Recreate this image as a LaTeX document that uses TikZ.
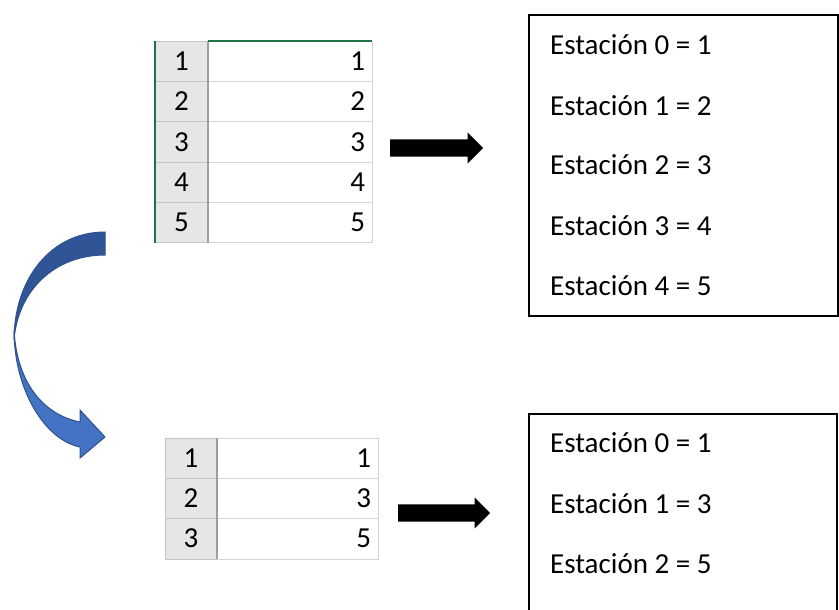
\documentclass[tikz,border=0pt]{standalone}
\usepackage{fontspec}
\setmainfont{Carlito}
\usetikzlibrary{positioning,shapes.arrows}

\definecolor{headgrey}{HTML}{E6E6E6}
\definecolor{headline}{HTML}{C4C4C4}
\definecolor{headedge}{HTML}{9E9E9E}
\definecolor{gridgrey}{HTML}{D4D4D4}
\definecolor{xlgreen}{HTML}{217346}
\definecolor{bandback}{HTML}{2F5597}
\definecolor{bandfront}{HTML}{4472C4}
\definecolor{bandedge}{HTML}{2F528F}

\tikzset{
  rowhead/.style={fill=headgrey, draw=headline, minimum width=53pt, minimum height=40.3pt,
    inner sep=0pt, outer sep=0pt, font=\fontsize{29}{29}\selectfont},
  cellval/.style={draw=gridgrey, minimum height=40.3pt, text width=150pt, align=right,
    inner xsep=7pt, inner ysep=0pt, outer sep=0pt, font=\fontsize{29}{29}\selectfont},
  estbox/.style={draw, line width=1.5pt, inner sep=0pt},
  estline/.style={anchor=base west, inner sep=0pt, font=\fontsize{29}{29}\selectfont},
  blockarrow/.style={single arrow, fill=black, single arrow head extend=7pt,
    inner xsep=0pt, inner ysep=8.5pt, anchor=tail},
}

\begin{document}
\begin{tikzpicture}[x=1pt, y=-1pt]
  \useasboundingbox (0,0) rectangle (839,610);

  % First sheet
  \node[rowhead] (hA1) at (181.5,61.2) {1};
  \node[rowhead, below=0pt of hA1] (hA2) {2};
  \node[rowhead, below=0pt of hA2] (hA3) {3};
  \node[rowhead, below=0pt of hA3] (hA4) {4};
  \node[rowhead, below=0pt of hA4] (hA5) {5};
  \node[cellval, right=0pt of hA1] (vA1) {1};
  \node[cellval, right=0pt of hA2] (vA2) {2};
  \node[cellval, right=0pt of hA3] (vA3) {3};
  \node[cellval, right=0pt of hA4] (vA4) {4};
  \node[cellval, right=0pt of hA5] (vA5) {5};
  \draw[headedge, line width=1.2pt] (hA1.north east) -- (hA5.south east);
  \draw[xlgreen, line width=1.2pt] (hA1.north west) -- (hA5.south west);
  \draw[xlgreen, line width=1.2pt] (vA1.north west) -- (vA1.north east);

  % Second sheet
  \node[rowhead, minimum width=52pt] (hB1) at (191,458) {1};
  \node[rowhead, minimum width=52pt, below=0pt of hB1] (hB2) {2};
  \node[rowhead, minimum width=52pt, below=0pt of hB2] (hB3) {3};
  \node[cellval, text width=147pt, right=0pt of hB1] (vB1) {1};
  \node[cellval, text width=147pt, right=0pt of hB2] (vB2) {3};
  \node[cellval, text width=147pt, right=0pt of hB3] (vB3) {5};
  \draw[headedge, line width=1.2pt] (hB1.north east) -- (hB3.south east);

  % Stations
  \node[estbox, minimum width=309pt, minimum height=301pt] (estA) at (683.5,165.5) {};
  \node[estline] (estA0) at (550,55) {Estación 0 = 1};
  \node[estline] (estA1) at (550,115) {Estación 1 = 2};
  \node[estline] (estA2) at (550,175) {Estación 2 = 3};
  \node[estline] (estA3) at (550,235) {Estación 3 = 4};
  \node[estline] (estA4) at (550,295) {Estación 4 = 5};

  \node[estbox, minimum width=308pt, minimum height=226pt] (estB) at (683,527) {};
  \node[estline] (estB0) at (550,452) {Estación 0 = 1};
  \node[estline] (estB1) at (550,513) {Estación 1 = 3};
  \node[estline] (estB2) at (550,573) {Estación 2 = 5};

  % Arrows
  \node[blockarrow, minimum height=93pt] (arrA) at (390,148) {};
  \node[blockarrow, minimum height=92pt] (arrB) at (398,513) {};

  % Curved arrow
  \filldraw[bandback, draw=bandedge, line width=1pt]
    (105,232) .. controls (50,232) and (14,280) .. (14,340)
    .. controls (18,290) and (55,255) .. (105,255) -- cycle;
  \filldraw[bandfront, draw=bandedge, line width=1pt]
    (14,330) .. controls (14,390) and (45,440) .. (80,447)
    -- (80,458) -- (105,437) -- (80,410) -- (80,422)
    .. controls (45,415) and (17,385) .. (14,330) -- cycle;
\end{tikzpicture}
\end{document}
